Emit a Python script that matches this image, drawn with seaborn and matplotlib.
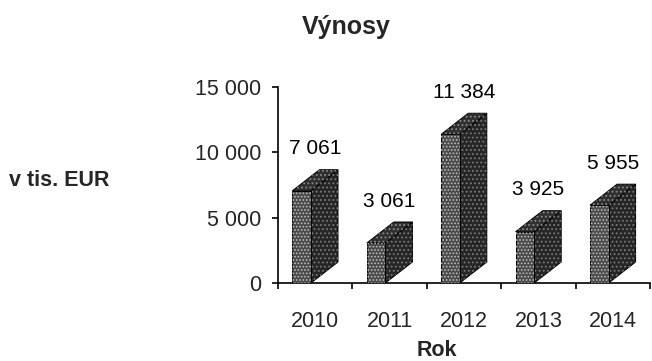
import matplotlib
matplotlib.use("Agg")
import matplotlib.pyplot as plt
import pandas as pd
import seaborn as sns
from matplotlib.patches import Polygon
from matplotlib.ticker import FuncFormatter

# Revenue by year (thousands of EUR)
years = ["2010", "2011", "2012", "2013", "2014"]
revenue = [7061, 3061, 11384, 3925, 5955]
y_ticks = [0, 5000, 10000, 15000]

sns.set_style("white")
plt.rcParams["font.family"] = ["Liberation Sans", "DejaVu Sans"]
plt.rcParams["hatch.linewidth"] = 0.8

W, H = 652, 361
fig = plt.figure(figsize=(W / 100, H / 100), dpi=100)
ax = fig.add_axes([278 / W, 1 - 283 / H, 372 / W, 196 / H])

df = pd.DataFrame({"Rok": years, "Vynosy": revenue})
sns.barplot(data=df, x="Rok", y="Vynosy", ax=ax, width=0.25,
            color="#4a4a4a", saturation=1, edgecolor="black", linewidth=0.7,
            zorder=3)
ax.set_xlim(-0.5, 4.5)
ax.set_ylim(0, 15000)

# depth of the pseudo-3D blocks, in pixels, converted to data units
depth_x_px, depth_y_px = 27, 21
dx = depth_x_px * 5 / 372
dy = depth_y_px * 15000 / 196
shift = -13.5 * 5 / 372

for p in ax.patches:
    p.set_x(p.get_x() + shift)
    x0 = p.get_x()
    x1 = x0 + p.get_width()
    h = p.get_height()
    side = [(x1, 0), (x1 + dx, dy), (x1 + dx, h + dy), (x1, h)]
    top = [(x0, h), (x1, h), (x1 + dx, h + dy), (x0 + dx, h + dy)]
    for pts, fc, hc in ((side, "#262626", "#7a7a7a"), (top, "#303030", "#8a8a8a")):
        ax.add_patch(Polygon(pts, closed=True, facecolor=fc, edgecolor="black",
                             linewidth=0.7, zorder=2, clip_on=False))
        ax.add_patch(Polygon(pts, closed=True, fill=False, hatch="....",
                             edgecolor=hc, linewidth=0, zorder=2.1, clip_on=False))
    ax.add_patch(Polygon([(x0, 0), (x1, 0), (x1, h), (x0, h)], closed=True,
                         fill=False, hatch=".....", edgecolor="#bdbdbd",
                         linewidth=0, zorder=3.1, clip_on=False))

# value labels above each block
for i, v in enumerate(revenue):
    ax.annotate(f"{v:,}".replace(",", " "), xy=(i, v), xytext=(0, depth_y_px + 21),
                textcoords="offset pixels", ha="center", va="center",
                fontsize=15, color="black", zorder=5)

thousands = FuncFormatter(lambda val, pos: f"{int(val):,}".replace(",", " "))
ax.set_yticks(y_ticks)
ax.yaxis.set_major_formatter(thousands)
ax.set_xticks(range(len(years)))
ax.set_xticklabels(years)
ax.set_xticks([i - 0.5 for i in range(len(years) + 1)], minor=True)
ax.tick_params(axis="x", which="major", length=0, pad=20, labelsize=15.5)
ax.tick_params(axis="x", which="minor", length=4, width=1.2, direction="out",
               bottom=True, color="black")
ax.tick_params(axis="y", which="major", length=4, width=1.2, direction="out",
               left=True, pad=8, labelsize=15.5, color="black")
ax.set_xlabel("")
ax.set_ylabel("")

for s in ("top", "right"):
    ax.spines[s].set_visible(False)
for s in ("left", "bottom"):
    ax.spines[s].set_color("black")
    ax.spines[s].set_linewidth(1.2)
ax.set_facecolor("white")

fig.text(346 / W, 1 - 27 / H, "Výnosy", ha="center", va="center",
         fontsize=18, fontweight="bold")
fig.text(9 / W, 1 - 181 / H, "v tis. EUR", ha="left", va="center",
         fontsize=15.5, fontweight="bold")
fig.text(437 / W, 1 - 350 / H, "Rok", ha="center", va="center",
         fontsize=15.5, fontweight="bold")

fig.savefig("out.png", dpi=100, facecolor="white")
